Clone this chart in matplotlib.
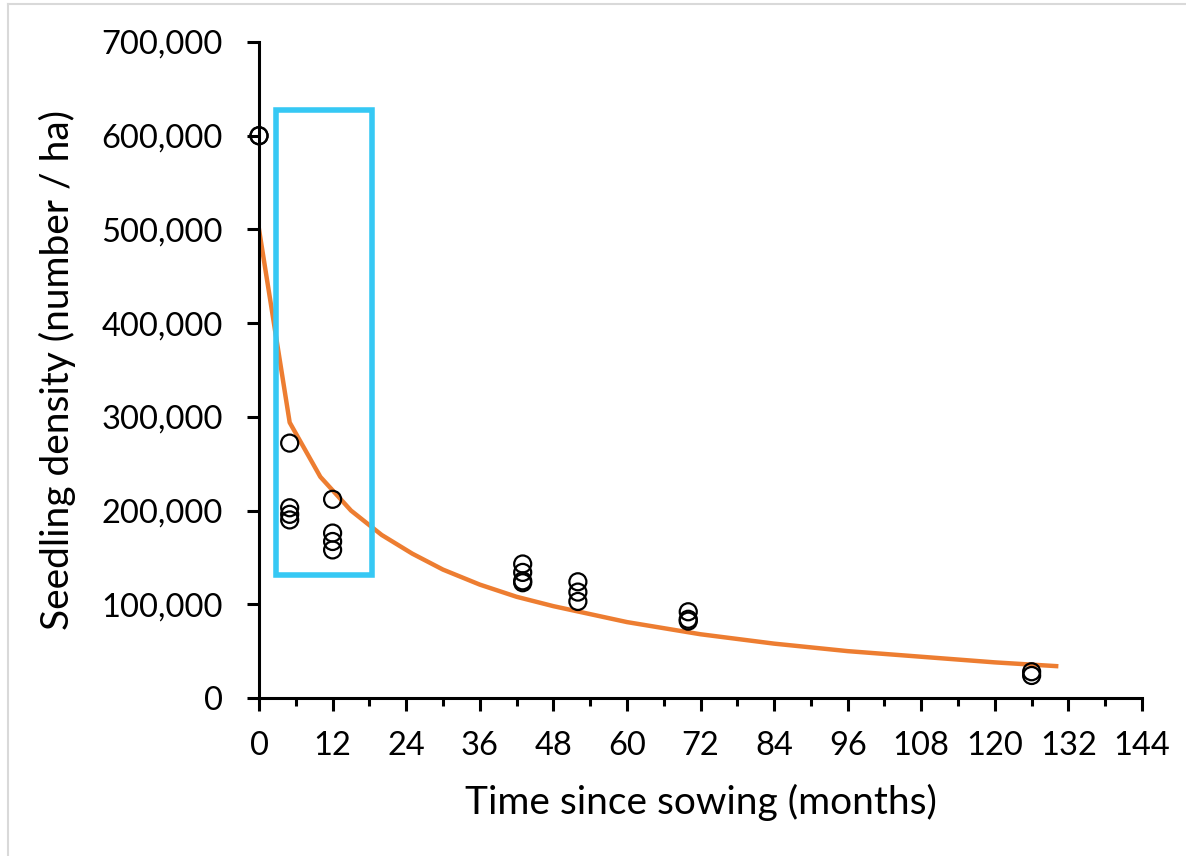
import matplotlib
matplotlib.use("Agg")
import matplotlib.pyplot as plt
from matplotlib.patches import Rectangle
from matplotlib.ticker import FuncFormatter, MultipleLocator

# Observed seedling densities
obs_months = [0, 0, 5, 5, 5, 5, 12, 12, 12, 12, 43, 43, 43, 43, 52, 52, 52, 70, 70, 70, 126, 126]
obs_density = [600000, 600000, 272000, 203000, 196000, 190000, 212000, 176000, 167000, 158000,
               143000, 134000, 125000, 123000, 124000, 113000, 103000, 92000, 84000, 82000,
               28000, 24000]

# Fitted curve
fit_months = [0, 5, 10, 15, 20, 25, 30, 36, 42, 48, 60, 72, 84, 96, 108, 120, 130]
fit_density = [500000, 294000, 236000, 200000, 174000, 154000, 137000, 121000, 108000, 98000,
               81000, 68000, 58000, 50000, 44000, 38000, 34000]

# Highlight box (months / density extents)
box_months = [2.85, 18.35]
box_density = [131000, 627000]

x_ticks = list(range(0, 145, 12))
y_ticks = list(range(0, 700001, 100000))

plt.rcParams['font.family'] = ['Lato', 'DejaVu Sans']

fig = plt.figure(figsize=(11.86, 8.56), dpi=100)
ax = fig.add_axes([0.2184, 0.1846, 0.7445, 0.7663])

ax.plot(fit_months, fit_density, color='#ED7D31', lw=3.2, zorder=2)
ax.scatter(obs_months, obs_density, s=150, facecolors='none', edgecolors='black',
           linewidths=1.6, zorder=3, clip_on=False)

ax.add_patch(Rectangle((box_months[0], box_density[0]), box_months[1] - box_months[0],
                       box_density[1] - box_density[0], fill=False,
                       edgecolor='#36C8F4', lw=4.0, zorder=4))

ax.set_xlim(0, 144)
ax.set_ylim(0, 700000)
ax.set_xticks(x_ticks)
ax.xaxis.set_minor_locator(MultipleLocator(6))
ax.set_yticks(y_ticks)
ax.yaxis.set_major_formatter(FuncFormatter(lambda v, p: f"{int(v):,}"))

for s in ['top', 'right']:
    ax.spines[s].set_visible(False)
for s in ['left', 'bottom']:
    ax.spines[s].set_linewidth(2.2)
    ax.spines[s].set_color('black')
    ax.spines[s].set_clip_on(False)

ax.tick_params(axis='both', which='major', labelsize=23.5, width=2.2, length=9,
               direction='out', color='black')
ax.tick_params(axis='x', which='minor', width=2.2, length=6, direction='out')
ax.tick_params(axis='x', which='major', pad=15)
ax.tick_params(axis='y', which='major', pad=17, length=9)

ax.set_xlabel('Time since sowing (months)', fontsize=28, labelpad=16)
ax.set_ylabel('Seedling density (number / ha)', fontsize=28, labelpad=18)

# light grey frame remnants (top and left)
fig.add_artist(plt.Line2D([0.007, 1.0], [0.995, 0.995], color='#D9D9D9', lw=1.5,
                          transform=fig.transFigure))
fig.add_artist(plt.Line2D([0.007, 0.007], [0.0, 0.995], color='#D9D9D9', lw=1.5,
                          transform=fig.transFigure))

fig.savefig('out.png', dpi=100)
